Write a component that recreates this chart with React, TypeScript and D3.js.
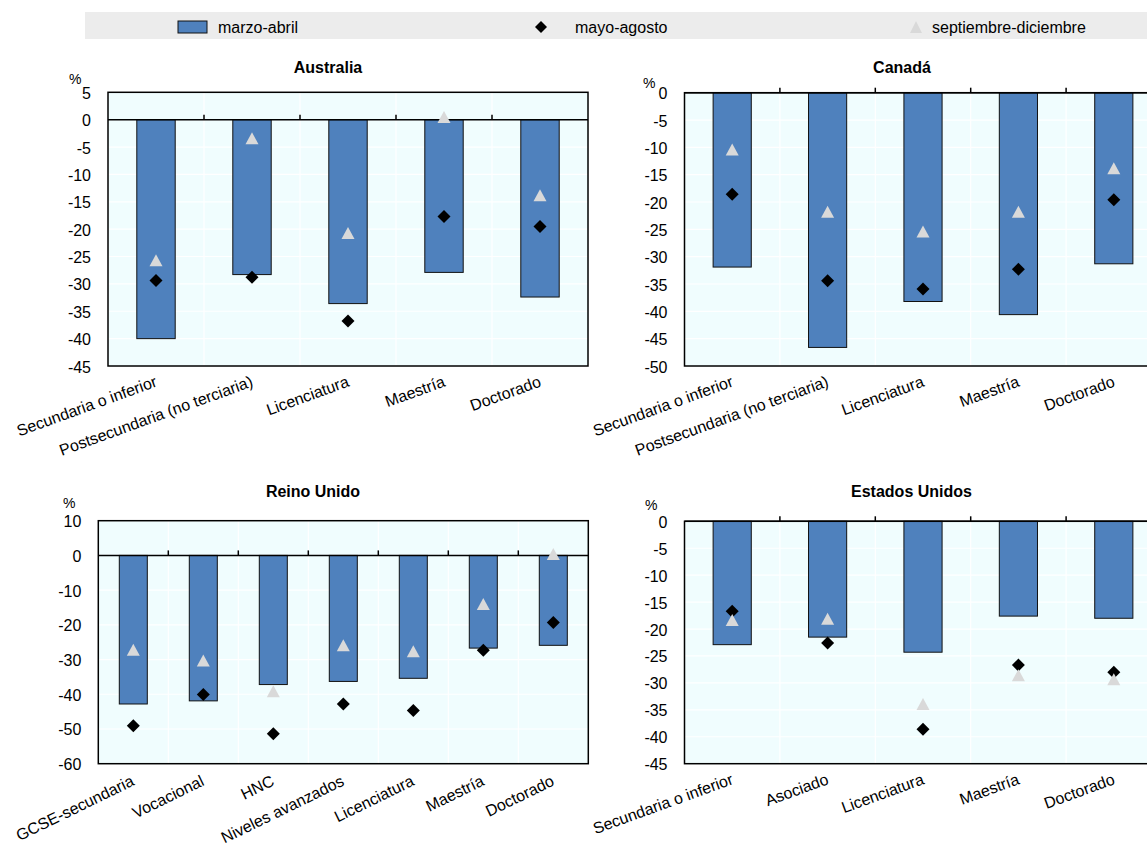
import React from "react";
import * as d3 from "d3";

// Series names shown in the legend
const seriesNames = ["marzo-abril", "mayo-agosto", "septiembre-diciembre"];

// Australia
const auCategories = ["Secundaria o inferior", "Postsecundaria (no terciaria)", "Licenciatura", "Maestría", "Doctorado"];
const auMarAbr = [-40.0, -28.3, -33.6, -27.9, -32.4];
const auMayAgo = [-29.4, -28.8, -36.8, -17.7, -19.5];
const auSepDic = [-25.7, -3.4, -20.7, 0.5, -13.8];
const auTicks = [5, 0, -5, -10, -15, -20, -25, -30, -35, -40, -45];

// Canadá
const caCategories = ["Secundaria o inferior", "Postsecundaria (no terciaria)", "Licenciatura", "Maestría", "Doctorado"];
const caMarAbr = [-31.9, -46.6, -38.2, -40.6, -31.3];
const caMayAgo = [-18.6, -34.4, -35.9, -32.3, -19.6];
const caSepDic = [-10.4, -21.8, -25.4, -21.8, -13.8];
const caTicks = [0, -5, -10, -15, -20, -25, -30, -35, -40, -45, -50];

// Reino Unido
const ukCategories = ["GCSE-secundaria", "Vocacional", "HNC", "Niveles avanzados", "Licenciatura", "Maestría", "Doctorado"];
const ukMarAbr = [-42.8, -41.9, -37.2, -36.3, -35.4, -26.7, -25.9];
const ukMayAgo = [-49.1, -40.1, -51.4, -42.8, -44.7, -27.3, -19.3];
const ukSepDic = [-27.2, -30.3, -39.1, -25.9, -27.6, -14.0, 0.4];
const ukTicks = [10, 0, -10, -20, -30, -40, -50, -60];

// Estados Unidos
const usCategories = ["Secundaria o inferior", "Asociado", "Licenciatura", "Maestría", "Doctorado"];
const usMarAbr = [-22.9, -21.5, -24.3, -17.6, -18.0];
const usMayAgo = [-16.7, -22.6, -38.6, -26.7, -28.0];
const usSepDic = [-18.3, -18.1, -33.9, -28.6, -29.3];
const usTicks = [0, -5, -10, -15, -20, -25, -30, -35, -40, -45];

const FONT = "'Liberation Sans', Arial, Helvetica, sans-serif";
const BAR = "#4f81bd";
const TRI = "#d9d9d9";
const PLOT_BG = "#f0fdfe";

const diamond = (cx: number, cy: number, r = 6.5) =>
  `M${cx},${cy - r}L${cx + r},${cy}L${cx},${cy + r}L${cx - r},${cy}Z`;
const triangle = (cx: number, cy: number, w = 13, h = 12) =>
  `M${cx},${cy - h / 2}L${cx + w / 2},${cy + h / 2}L${cx - w / 2},${cy + h / 2}Z`;

type PanelProps = {
  title: string;
  titleX: number;
  titleY: number;
  categories: string[];
  marAbr: number[];
  mayAgo: number[];
  sepDic: number[];
  ticks: number[];
  left: number;
  top: number;
  width: number;
  height: number;
  pctX: number;
  pctY: number;
  labelAngle: number;
  labelDy: number;
};

function Panel(p: PanelProps) {
  const x = d3
    .scaleBand<string>()
    .domain(p.categories)
    .range([p.left, p.left + p.width])
    .paddingInner(0)
    .paddingOuter(0);
  const y = d3
    .scaleLinear()
    .domain([d3.min(p.ticks) as number, d3.max(p.ticks) as number])
    .range([p.top + p.height, p.top]);
  const bw = x.bandwidth() * 0.4;
  const bottom = p.top + p.height;
  const y0 = y(0);
  const boundaries = p.categories.slice(1).map((c) => x(c) as number);

  return (
    <g>
      <text x={p.titleX} y={p.titleY} textAnchor="middle" fontWeight="bold" fontSize={16} fontFamily={FONT}>
        {p.title}
      </text>
      <text x={p.pctX} y={p.pctY} fontSize={14} fontFamily={FONT}>
        %
      </text>
      <rect x={p.left} y={p.top} width={p.width} height={p.height} fill={PLOT_BG} />
      {p.ticks.map((t) => (
        <line key={"h" + t} x1={p.left} x2={p.left + p.width} y1={y(t)} y2={y(t)} stroke="#fff" strokeWidth={1.2} />
      ))}
      {boundaries.map((bx, i) => (
        <line key={"v" + i} x1={bx} x2={bx} y1={p.top} y2={bottom} stroke="#fff" strokeWidth={1.2} />
      ))}
      {p.ticks.map((t) => (
        <text
          key={"t" + t}
          x={p.left - 17}
          y={y(t) + 6.5}
          textAnchor="end"
          fontSize={16}
          fontFamily={FONT}
        >
          {t}
        </text>
      ))}
      {p.categories.map((c, i) => {
        const cx = (x(c) as number) + x.bandwidth() / 2;
        const v = p.marAbr[i];
        return (
          <rect
            key={"b" + c}
            x={cx - bw / 2}
            y={Math.min(y(v), y0)}
            width={bw}
            height={Math.abs(y(v) - y0)}
            fill={BAR}
            stroke="#111"
            strokeWidth={1}
          />
        );
      })}
      <line x1={p.left} x2={p.left + p.width} y1={y0} y2={y0} stroke="#000" strokeWidth={1.5} />
      {boundaries.map((bx, i) => (
        <line key={"k" + i} x1={bx} x2={bx} y1={y0 - 5} y2={y0} stroke="#000" strokeWidth={1.5} />
      ))}
      <rect x={p.left} y={p.top} width={p.width} height={p.height} fill="none" stroke="#000" strokeWidth={1.5} />
      {p.categories.map((c, i) => {
        const cx = (x(c) as number) + x.bandwidth() / 2;
        return <path key={"d" + c} d={diamond(cx, y(p.mayAgo[i]))} fill="#000" />;
      })}
      {p.categories.map((c, i) => {
        const cx = (x(c) as number) + x.bandwidth() / 2;
        return <path key={"g" + c} d={triangle(cx, y(p.sepDic[i]))} fill={TRI} />;
      })}
      {p.categories.map((c) => {
        const cx = (x(c) as number) + x.bandwidth() / 2;
        return (
          <text
            key={"l" + c}
            transform={`translate(${cx + 2},${bottom + p.labelDy}) rotate(${p.labelAngle})`}
            textAnchor="end"
            fontSize={16}
            fontFamily={FONT}
          >
            {c}
          </text>
        );
      })}
    </g>
  );
}

export default function App() {
  return (
    <svg
      width={1147}
      height={846}
      style={{ position: "absolute", left: 0, top: 0, display: "block", background: "#fff" }}
    >
      {/* Legend */}
      <rect x={85} y={12} width={1062} height={27} fill="#ececec" />
      <rect x={178} y={21} width={29} height={12} fill={BAR} stroke="#111" strokeWidth={1} />
      <text x={218} y={33} fontSize={16} fontFamily={FONT}>
        {seriesNames[0]}
      </text>
      <path d={diamond(541, 27, 6)} fill="#000" />
      <text x={575} y={33} fontSize={16} fontFamily={FONT}>
        {seriesNames[1]}
      </text>
      <path d={triangle(916, 27, 12, 12)} fill={TRI} />
      <text x={932} y={33} fontSize={16} fontFamily={FONT}>
        {seriesNames[2]}
      </text>

      <Panel
        title="Australia"
        titleX={328}
        titleY={73}
        categories={auCategories}
        marAbr={auMarAbr}
        mayAgo={auMayAgo}
        sepDic={auSepDic}
        ticks={auTicks}
        left={108}
        top={92.3}
        width={480}
        height={273.7}
        pctX={69}
        pctY={84}
        labelAngle={-20}
        labelDy={20}
      />
      <Panel
        title="Canadá"
        titleX={902}
        titleY={73}
        categories={caCategories}
        marAbr={caMarAbr}
        mayAgo={caMayAgo}
        sepDic={caSepDic}
        ticks={caTicks}
        left={684.5}
        top={92.7}
        width={477}
        height={273.3}
        pctX={643}
        pctY={88}
        labelAngle={-20}
        labelDy={20}
      />
      <Panel
        title="Reino Unido"
        titleX={313}
        titleY={497}
        categories={ukCategories}
        marAbr={ukMarAbr}
        mayAgo={ukMayAgo}
        sepDic={ukSepDic}
        ticks={ukTicks}
        left={98.3}
        top={520.7}
        width={490}
        height={243}
        pctX={63}
        pctY={508}
        labelAngle={-26}
        labelDy={21}
      />
      <Panel
        title="Estados Unidos"
        titleX={911.5}
        titleY={497}
        categories={usCategories}
        marAbr={usMarAbr}
        mayAgo={usMayAgo}
        sepDic={usSepDic}
        ticks={usTicks}
        left={684.5}
        top={521.3}
        width={477}
        height={242.4}
        pctX={645}
        pctY={510}
        labelAngle={-20}
        labelDy={20}
      />
    </svg>
  );
}
